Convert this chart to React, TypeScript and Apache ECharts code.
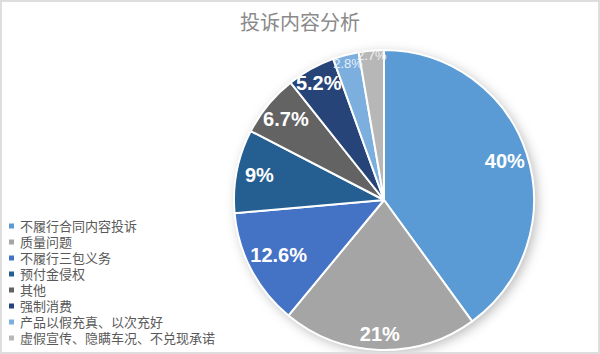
import React, { useEffect, useRef } from "react";
import * as echarts from "echarts";

const categories = [
  "不履行合同内容投诉",
  "质量问题",
  "不履行三包义务",
  "预付金侵权",
  "其他",
  "强制消费",
  "产品以假充真、以次充好",
  "虚假宣传、隐瞒车况、不兑现承诺",
];
const values = [40, 21, 12.6, 9, 6.7, 5.2, 2.8, 2.7];
const colors = ["#5B9BD5", "#A5A5A5", "#4472C4", "#255E91", "#636363", "#264478", "#7CAFDD", "#B7B7B7"];

// label placement rings (styling, not data): [inner, outer] radius whose midpoint is the label distance
const CENTER = [384, 200];
const R = 150;
const labelRings = [
  { ring: [102, 146], size: 20, weight: "bold", color: "#fff", items: ["不履行合同内容投诉", "预付金侵权", "其他"] },
  { ring: [112, 150], size: 20, weight: "bold", color: "#fff", items: ["质量问题", "强制消费"] },
  { ring: [86, 146], size: 20, weight: "bold", color: "#fff", items: ["不履行三包义务"] },
  { ring: [114, 162], size: 13, weight: "normal", color: "#e6eef8", items: ["产品以假充真、以次充好"] },
  { ring: [122, 162], size: 13, weight: "normal", color: "#f2f2f2", items: ["虚假宣传、隐瞒车况、不兑现承诺"] },
];

export default function App() {
  const ref = useRef<HTMLDivElement>(null);
  useEffect(() => {
    document.body.style.margin = "0";
    if (!ref.current) return;
    const chart = echarts.init(ref.current, null, { renderer: "svg" });
    const fmt = (p: any) => `${p.value}%`;
    const mainData = categories.map((name, i) => ({
      name,
      value: values[i],
      itemStyle: { color: colors[i] },
    }));
    const overlays = labelRings.map((cfg, k) => ({
      type: "pie",
      center: CENTER,
      radius: cfg.ring,
      startAngle: 90,
      clockwise: true,
      silent: true,
      avoidLabelOverlap: false,
      z: 3 + k,
      itemStyle: { color: "rgba(0,0,0,0)", borderWidth: 0 },
      emphasis: { disabled: true },
      labelLine: { show: false },
      labelLayout: { hideOverlap: false },
      label: {
        position: "inside",
        formatter: fmt,
        color: cfg.color,
        fontSize: cfg.size,
        fontWeight: cfg.weight,
        fontFamily: "Liberation Sans",
        overflow: "none",
      },
      data: categories.map((name, i) => ({
        name,
        value: values[i],
        label: { show: cfg.items.includes(name) },
      })),
    }));
    chart.setOption({
      animation: false,
      backgroundColor: "#fff",
      title: {
        text: "投诉内容分析",
        left: "center",
        top: 11,
        padding: 0,
        textStyle: {
          fontSize: 20,
          fontWeight: "normal",
          color: "#8a8a8a",
          fontFamily: "Noto Sans CJK SC",
        },
      },
      legend: {
        orient: "vertical",
        left: 7,
        top: 218,
        padding: 0,
        itemWidth: 7,
        itemHeight: 7,
        itemGap: 0,
        icon: "rect",
        selectedMode: false,
        data: categories.map((name, i) => ({ name, itemStyle: { color: colors[i] } })),
        textStyle: {
          fontSize: 13,
          lineHeight: 16,
          color: "#595959",
          fontFamily: "'Liberation Sans', 'Noto Sans CJK SC'",
        },
      },
      graphic: [
        {
          type: "rect",
          shape: { x: 1, y: 1, width: 598, height: 352 },
          style: { fill: "none", stroke: "#dedede", lineWidth: 2 },
          silent: true,
          z: 100,
        },
      ],
      series: [
        {
          type: "pie",
          center: CENTER,
          radius: [0, R],
          silent: true,
          z: 1,
          label: { show: false },
          labelLine: { show: false },
          itemStyle: {
            color: "#fff",
            shadowBlur: 12,
            shadowColor: "rgba(0,0,0,0.28)",
            shadowOffsetX: 3,
            shadowOffsetY: 3,
          },
          data: [{ name: "__bg", value: 1 }],
        },
        {
          type: "pie",
          center: CENTER,
          radius: [0, R],
          startAngle: 90,
          clockwise: true,
          z: 2,
          label: { show: false },
          labelLine: { show: false },
          emphasis: { disabled: true },
          itemStyle: { borderColor: "#fff", borderWidth: 2 },
          data: mainData,
        },
        ...overlays,
      ],
    });
    return () => chart.dispose();
  }, []);
  return <div ref={ref} style={{ width: 600, height: 354 }} />;
}
